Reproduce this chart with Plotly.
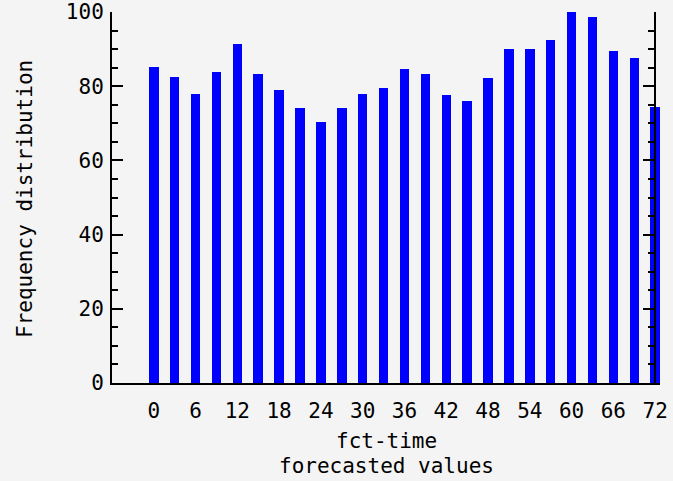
import plotly.graph_objects as go

fct_time = [0, 3, 6, 9, 12, 15, 18, 21, 24, 27, 30, 33, 36, 39, 42, 45, 48, 51, 54, 57, 60, 63, 66, 69, 72]
frequency = [85.2, 82.6, 78.0, 83.7, 91.4, 83.2, 79.0, 74.0, 70.4, 74.0, 78.0, 79.5, 84.7, 83.2,
             77.5, 76.0, 82.2, 89.9, 89.9, 92.4, 100.0, 98.6, 89.4, 87.7, 74.5]
x_ticks = [0, 6, 12, 18, 24, 30, 36, 42, 48, 54, 60, 66, 72]
y_ticks = [0, 20, 40, 60, 80, 100]

FONT = "DejaVu Sans Mono"
BG = "#f4f4f4"

fig = go.Figure()
fig.add_trace(go.Bar(x=fct_time, y=frequency, width=1.36,
                     marker=dict(color="#0000ff", line=dict(width=0))))
# invisible trace to activate the right axis
fig.add_trace(go.Scatter(x=[0], y=[0], yaxis="y2", mode="markers",
                         marker=dict(opacity=0), showlegend=False, hoverinfo="skip"))

xr = [-6, 72.7]
fig.update_layout(
    template="none",
    width=673, height=481,
    margin=dict(l=112, r=13, t=12, b=98, autoexpand=False),
    paper_bgcolor=BG, plot_bgcolor=BG,
    showlegend=False,
    font=dict(family=FONT, size=21, color="black"),
    bargap=0,
    xaxis=dict(range=xr, tickmode="array", tickvals=x_ticks, ticktext=[str(v) for v in x_ticks],
               automargin=False,
               showgrid=False, zeroline=False, showline=True, linecolor="black", linewidth=2,
               ticks="", ticklabelstandoff=8, tickfont=dict(family=FONT, size=21)),
    yaxis=dict(range=[0, 100], tickmode="array", tickvals=y_ticks, automargin=False,
               showgrid=False, zeroline=False, showline=True, linecolor="black", linewidth=2,
               ticks="inside", ticklen=11, tickwidth=2, tickcolor="black",
               minor=dict(dtick=5, ticks="inside", ticklen=6, tickwidth=2, tickcolor="black"),
               ticklabelstandoff=2, tickfont=dict(family=FONT, size=21)),
    yaxis2=dict(range=[0, 100], overlaying="y", side="right", anchor="free", automargin=False,
                position=(72 - xr[0]) / (xr[1] - xr[0]),
                tickmode="array", tickvals=y_ticks, showticklabels=False,
                showgrid=False, zeroline=False, showline=True, linecolor="black", linewidth=2,
                ticks="inside", ticklen=11, tickwidth=2, tickcolor="black",
                minor=dict(dtick=5, ticks="inside", ticklen=6, tickwidth=2, tickcolor="black")),
    annotations=[
        dict(text="fct-time", xref="paper", yref="paper", x=0.5, y=0, xanchor="center",
             yanchor="middle", yshift=-58, showarrow=False, font=dict(family=FONT, size=21)),
        dict(text="forecasted values", xref="paper", yref="paper", x=0.5, y=0, xanchor="center",
             yanchor="middle", yshift=-83, showarrow=False, font=dict(family=FONT, size=21)),
        dict(text="Frequency distribution", xref="paper", yref="paper", x=0, y=0.496,
             xanchor="center", yanchor="middle", xshift=-87, textangle=-90, showarrow=False,
             font=dict(family=FONT, size=21)),
    ],
)

fig.write_html("out.html")
